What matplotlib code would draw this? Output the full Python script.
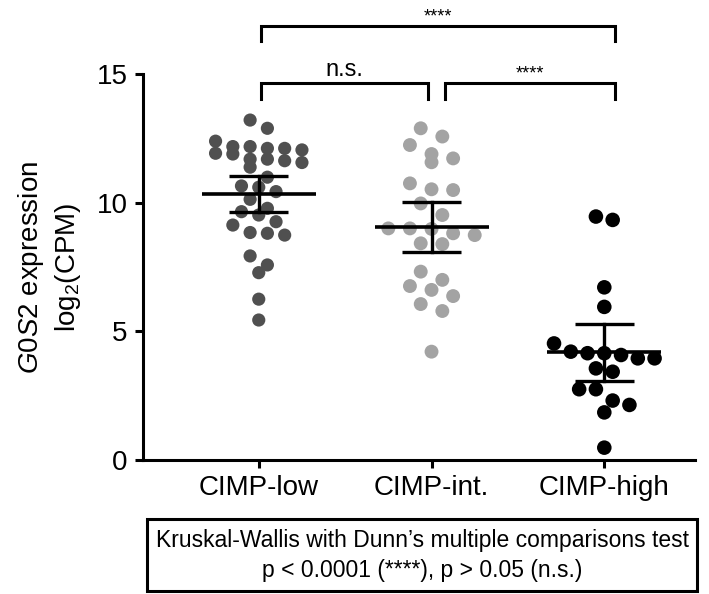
import numpy as np
import matplotlib
matplotlib.use("Agg")
from matplotlib import pyplot as plt
from matplotlib.patches import Rectangle

plt.rcParams['font.family'] = ['Liberation Sans', 'DejaVu Sans']
plt.rcParams['mathtext.fontset'] = 'custom'
plt.rcParams['mathtext.rm'] = 'Liberation Sans'
plt.rcParams['mathtext.it'] = 'Liberation Sans:italic'

# data
groups = ['CIMP-low', 'CIMP-int.', 'CIMP-high']
cimp_low = [13.21, 12.89, 12.39, 12.18, 12.18, 12.11, 12.11, 12.05, 11.92, 11.89,
            11.69, 11.69, 11.63, 11.56, 11.38, 10.99, 10.65, 10.60, 10.43, 10.13,
            9.78, 9.65, 9.52, 9.26, 9.13, 8.84, 8.81, 8.74, 7.93, 7.58, 7.28,
            6.25, 5.44]
cimp_int = [12.89, 12.57, 12.24, 11.89, 11.72, 11.57, 10.75, 10.52, 10.49, 9.97,
            9.52, 9.00, 9.00, 8.98, 8.81, 8.74, 8.42, 8.39, 7.32, 7.00, 6.76,
            6.61, 6.37, 6.06, 5.79, 4.21]
cimp_high = [9.46, 9.33, 6.71, 5.95, 4.53, 4.21, 4.15, 4.15, 4.08, 3.95, 3.95,
             3.56, 3.43, 2.75, 2.75, 2.31, 2.14, 1.85, 0.48]
means = [10.33, 9.06, 4.21]
ci_low = [9.64, 8.10, 3.08]
ci_high = [11.04, 10.01, 5.29]
colors = ['#505050', '#a3a3a3', '#000000']


def swarm(vals, bin_h, step):
    # simple row-binned swarm, like Prism's scatter layout
    v = np.sort(np.asarray(vals))[::-1]
    offs = np.zeros(len(v))
    i = 0
    while i < len(v):
        j = i
        while j < len(v) and v[i] - v[j] < bin_h:
            j += 1
        n = j - i
        offs[i:j] = (np.arange(n) - (n - 1) / 2) * step
        i = j
    return v, offs


fig = plt.figure(figsize=(7.09, 5.94), dpi=100)
ax = fig.add_axes([143 / 709, 134 / 594, 552 / 709, 386 / 594])

data = [cimp_low, cimp_int, cimp_high]
params = [(0.4, 0.1, 90), (0.55, 0.125, 100), (0.62, 0.097, 110)]
for k, vals in enumerate(data):
    bh, st, sz = params[k]
    v, o = swarm(vals, bh, st)
    ax.scatter(k + o, v, s=sz, color=colors[k], edgecolors='none', zorder=2)
    ax.plot([k - 0.33, k + 0.33], [means[k]] * 2, color='black', lw=2.6, zorder=3,
            solid_capstyle='butt')
    ax.plot([k, k], [ci_low[k], ci_high[k]], color='black', lw=2.4, zorder=3)
    for y in (ci_low[k], ci_high[k]):
        ax.plot([k - 0.17, k + 0.17], [y, y], color='black', lw=2.4, zorder=3,
                solid_capstyle='butt')

ax.set_xlim(-0.67, 2.525)
ax.set_ylim(0, 15)
ax.set_yticks([0, 5, 10, 15])
ax.set_xticks(range(3))
ax.set_xticklabels(groups)
ax.spines['top'].set_visible(False)
ax.spines['right'].set_visible(False)
for s in ('left', 'bottom'):
    ax.spines[s].set_linewidth(2.2)
ax.tick_params(width=2.2, length=6, labelsize=20, pad=5)
ax.set_ylabel(r'$\it{G0S2}$ expression' + '\n' + r'log$_2$(CPM)', fontsize=20,
              labelpad=10, linespacing=1.3)

# significance brackets
def bracket(x0, x1, y, h, label, fs, ty):
    ax.plot([x0, x0, x1, x1], [y - h, y, y, y - h], color='black', lw=2.2,
            clip_on=False, solid_joinstyle='miter')
    ax.text((x0 + x1) / 2, ty, label, ha='center', va='center', fontsize=fs,
            clip_on=False)

bracket(0.013, 2.06, 16.87, 0.6, '****', 13, 17.22)
bracket(0.013, 0.98, 14.64, 0.6, 'n.s.', 17, 15.17)
bracket(1.08, 2.06, 14.64, 0.6, '****', 13, 15.0)

# note box
fig.patches.append(Rectangle((147 / 709, 3 / 594), 550 / 709, 72 / 594,
                             transform=fig.transFigure, fill=False,
                             lw=2.2, edgecolor='black'))
fig.text(422 / 709, 1 - 541 / 594, 'Kruskal-Wallis with Dunn\u2019s multiple comparisons test',
         ha='center', va='center', fontsize=16.5)
fig.text(422 / 709, 1 - 571 / 594, 'p < 0.0001 (****), p > 0.05 (n.s.)',
         ha='center', va='center', fontsize=16.5)

fig.savefig('out.png', dpi=100)
